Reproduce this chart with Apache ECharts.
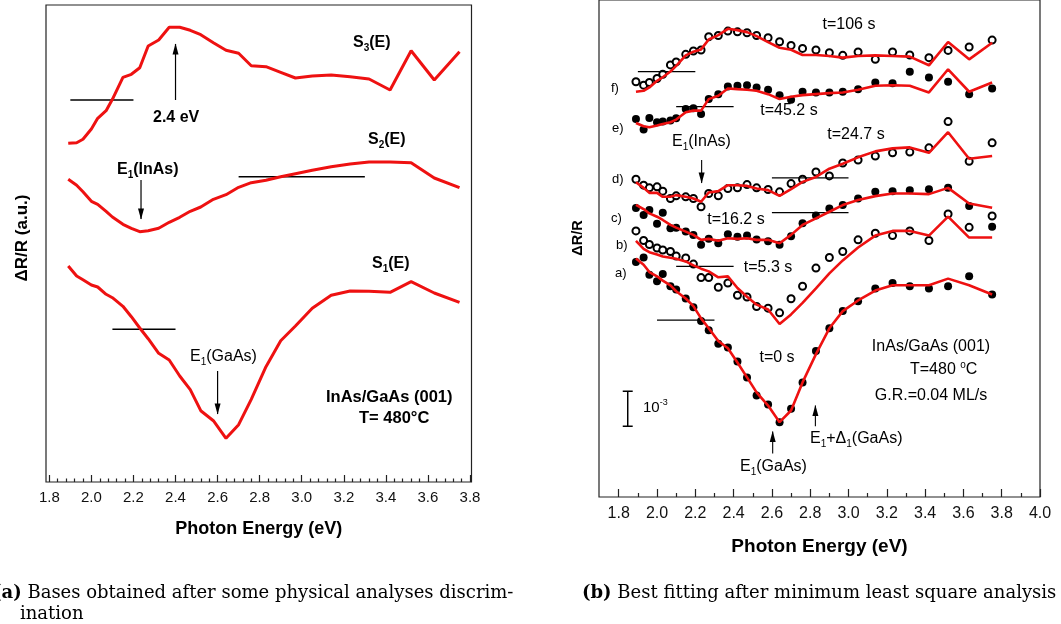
<!DOCTYPE html>
<html><head><meta charset="utf-8">
<script src="https://cdn.jsdelivr.net/npm/echarts@6/dist/echarts.min.js"></script>
<style>html,body{margin:0;padding:0;background:#fff}#c{width:1061px;height:624px}</style>
</head><body><div id="c"></div>
<script>
// Photon energies (eV) shared by all curves
const energy = [1.89,1.93,1.96,2.00,2.03,2.07,2.10,2.15,2.19,2.23,2.27,2.32,2.37,2.42,2.47,2.52,2.58,2.64,2.70,2.76,2.83,2.90,2.97,3.05,3.14,3.23,3.32,3.42,3.52,3.63,3.75];

// (a) bases, arbitrary units
const S3 = [33.87,33.93,34.27,35.3,36.37,37.13,38.27,40.47,40.77,41.43,43.6,44.2,45.47,45.47,45.17,44.73,43.93,43.17,42.87,41.63,41.53,40.97,40.4,40.6,40.7,40.53,40.3,39.2,43.13,40.2,43.03];
const S2 = [30.27,29.67,29.03,28.07,27.77,27.07,26.5,25.77,25.37,25.03,25.13,25.37,25.97,26.47,27.07,27.5,28.27,28.73,29.47,29.93,30.17,30.53,30.83,31.17,31.53,31.8,32.0,32.0,31.93,30.4,29.43];
const S1 = [21.6,20.6,20.23,19.7,19.5,18.77,18.43,17.57,16.53,15.4,14.33,12.87,12.2,10.6,9.23,7.13,6.13,4.37,5.73,8.27,11.53,14.13,15.6,17.37,18.67,19.1,19.07,18.97,20.03,18.9,17.97];

// (b) measured spectra (offset) and fits
const fData = [41.77,41.43,41.7,42.1,42.53,43.47,43.77,44.53,44.87,44.97,46.3,46.43,46.87,46.8,46.7,46.43,46.2,45.8,45.43,45.13,44.97,44.7,44.43,44.77,44.03,44.77,44.47,44.2,44.93,45.27,45.97];
const fFit  = [40.77,40.87,41.2,41.87,42.23,42.8,43.37,44.43,44.8,45.03,46.03,46.47,47.1,46.97,46.77,46.37,45.77,45.2,45.0,44.47,44.47,44.37,44.2,44.37,44.43,44.37,44.3,43.43,45.77,44.03,45.7];
const eData = [38.03,36.97,38.13,37.7,37.77,37.87,38.1,39.03,39.1,38.53,40.03,40.53,41.3,41.37,41.43,41.2,40.97,40.43,39.97,40.77,40.7,40.7,40.77,41.03,41.7,41.63,42.77,42.2,41.77,40.53,41.1];
const eFit  = [37.63,37.3,37.2,37.37,37.53,37.7,37.97,38.7,38.87,38.87,40.03,40.37,41.1,41.03,40.97,40.87,40.53,40.03,40.27,40.43,40.53,40.63,40.7,40.97,41.37,41.43,41.37,40.7,43.03,40.77,41.7];
const dData = [31.97,31.37,31.1,31.2,30.77,30.03,30.3,30.2,30.03,29.2,30.53,30.3,31.03,31.1,31.43,31.1,30.93,30.7,31.53,31.97,32.7,32.3,33.6,33.9,34.3,34.63,34.7,35.13,37.77,33.77,35.63];
const dFit  = [31.67,31.1,30.6,30.6,30.2,30.2,30.37,30.2,30.03,29.7,30.63,30.77,31.37,31.37,31.3,31.03,30.87,30.3,30.97,31.7,32.2,33.03,33.53,34.17,34.77,35.07,35.17,34.63,36.7,34.03,34.3];
const cData = [29.07,28.37,28.87,27.5,28.6,27.03,27.1,26.7,26.37,25.37,25.97,25.53,26.43,26.17,26.3,25.9,25.73,25.37,26.23,27.53,28.33,29.03,29.37,30.03,30.7,30.77,30.87,30.97,31.1,29.27,27.2];
const cFit  = [29.4,28.97,28.53,28.2,27.87,27.37,27.1,26.7,26.37,25.87,25.97,25.77,26.03,25.97,26.03,25.87,25.87,25.53,26.37,27.37,28.03,28.7,29.37,29.87,30.27,30.53,30.53,30.47,31.1,29.53,29.1];
const bData = [26.77,25.8,25.4,25.05,24.85,24.7,24.25,24.05,23.43,22.07,22.07,21.1,21.53,20.3,20.12,19.17,19.0,18.53,19.95,21.2,23.03,24.1,24.7,25.87,26.53,26.3,26.77,25.8,28.47,27.13,28.27];
const bFit  = [25.77,24.97,24.63,24.4,24.2,24.07,23.97,23.7,23.3,22.97,22.7,22.1,22.2,21.03,20.15,19.35,18.87,17.4,18.37,19.53,21.0,22.5,23.8,25.1,26.3,26.77,26.77,26.3,28.2,26.1,26.1];
const aData = [23.63,24.1,22.37,21.7,22.43,21.2,20.87,19.97,19.1,17.7,16.77,15.43,15.03,13.63,12.03,10.2,9.3,7.53,8.87,11.53,14.7,16.97,18.7,19.7,20.97,21.53,21.2,20.97,21.2,22.2,20.37];
const aFit  = [24.0,23.37,22.63,22.2,21.77,21.3,20.7,19.97,19.2,17.97,16.97,15.7,14.97,13.53,12.03,10.53,9.2,7.53,8.7,11.53,14.37,16.97,18.7,19.77,20.77,21.3,21.3,21.3,21.97,21.3,20.37];

// zero (baseline) levels: [E start, E end, level]
const baseLeft  = [[1.9,2.2,38.2],[2.7,3.3,30.53],[2.1,2.4,15.27]];
const baseRight = [[1.9,2.2,42.8],[2.1,2.4,39.27],[2.6,3.0,32.1],[2.6,3.0,28.6],[2.1,2.4,23.2],[2.0,2.3,17.8]];

// arrows: [E, tail level, tip level]
const arrowsLeft  = [[2.4, 38.2, 43.8], [2.236, 30.2, 26.3], [2.6, 11.1, 6.8]];
const arrowsRight = [[2.233, 33.9, 31.6], [2.604, 4.37, 6.6], [2.827, 7.13, 9.2]];

// tick labels
const ticksLeft  = [1.8,2.0,2.2,2.4,2.6,2.8,3.0,3.2,3.4,3.6,3.8];
const ticksRight = [1.8,2.0,2.2,2.4,2.6,2.8,3.0,3.2,3.4,3.6,3.8,4.0];
const minorLeft = [], minorRight = [];
for (let i = 0; i < ticksLeft.length - 1; i++) for (let k = 1; k < 5; k++) minorLeft.push(+(ticksLeft[i] + k * 0.04).toFixed(2));
for (let i = 0; i < ticksRight.length - 1; i++) minorRight.push(+(ticksRight[i] + 0.1).toFixed(2));

const RED = '#ee1111';
const SANS = '"Liberation Sans", Arial, sans-serif';
const zip = v => energy.map((e, i) => [e, v[i]]);

function mainX(grid, min, max, ticks, len, fs, margin, nameGap, nameSize) {
  return {
    type: 'value', gridIndex: grid, min, max, position: 'bottom',
    axisLine: { show: false }, splitLine: { show: false },
    axisTick: { show: true, inside: true, length: len, customValues: ticks, lineStyle: { color: '#222', width: 1.2 } },
    axisLabel: { show: true, customValues: ticks, formatter: v => v.toFixed(1), fontSize: fs, color: '#111', margin, fontFamily: SANS },
    name: 'Photon Energy (eV)', nameLocation: 'middle', nameGap,
    nameTextStyle: { fontSize: nameSize, fontWeight: 'bold', color: '#000', fontFamily: SANS }
  };
}
function minorX(grid, min, max, ticks, len) {
  return {
    type: 'value', gridIndex: grid, min, max, position: 'bottom', offset: 0,
    axisLine: { show: false }, splitLine: { show: false },
    axisTick: { show: true, inside: true, length: len, customValues: ticks, lineStyle: { color: '#222', width: 1.2 } },
    axisLabel: { show: false, customValues: ticks }
  };
}

const series = [];
[S1, S2, S3].forEach(s => series.push({ type: 'line', xAxisIndex: 0, yAxisIndex: 0, data: zip(s), symbol: 'none', lineStyle: { color: RED, width: 3 }, z: 3 }));
baseLeft.forEach(b => series.push({ type: 'line', xAxisIndex: 0, yAxisIndex: 0, data: [[b[0], b[2]], [b[1], b[2]]], symbol: 'none', lineStyle: { color: '#000', width: 1.4 }, z: 2 }));

const sets = [[aData, aFit, true], [bData, bFit, false], [cData, cFit, true], [dData, dFit, false], [eData, eFit, true], [fData, fFit, false]];
sets.forEach(([d, f, filled]) => {
  series.push({ type: 'scatter', xAxisIndex: 2, yAxisIndex: 1, data: zip(d), symbol: 'circle', symbolSize: filled ? 8 : 7,
    itemStyle: filled ? { color: '#000', opacity: 1 } : { color: '#fff', borderColor: '#000', borderWidth: 2, opacity: 1 }, z: 2 });
  series.push({ type: 'line', xAxisIndex: 2, yAxisIndex: 1, data: zip(f), symbol: 'none', lineStyle: { color: RED, width: 2.6 }, z: 4 });
});
baseRight.forEach(b => series.push({ type: 'line', xAxisIndex: 2, yAxisIndex: 1, data: [[b[0], b[2]], [b[1], b[2]]], symbol: 'none', lineStyle: { color: '#000', width: 1.3 }, z: 3 }));

function arrowSeries(xi, yi, list, width) {
  const out = [];
  list.forEach(a => {
    const up = a[2] > a[1];
    out.push({ type: 'line', xAxisIndex: xi, yAxisIndex: yi, data: [[a[0], a[1]], [a[0], a[2]]], symbol: 'none',
      lineStyle: { color: '#000', width }, z: 5 });
    out.push({ type: 'scatter', xAxisIndex: xi, yAxisIndex: yi, data: [[a[0], a[2]]], symbol: 'triangle',
      symbolSize: [6, 11], symbolRotate: up ? 0 : 180, symbolOffset: [0, up ? 5 : -5],
      itemStyle: { color: '#000', opacity: 1 }, z: 6, silent: true });
  });
  return out;
}
series.push(...arrowSeries(0, 0, arrowsLeft, 1.2));
series.push(...arrowSeries(2, 1, arrowsRight, 1.1));
// 10^-3 scale bar
const scaleBar = [[1.847, 10.63, 7.13]];
scaleBar.forEach(s => {
  const half = 0.026;
  series.push({ type: 'line', xAxisIndex: 2, yAxisIndex: 1, symbol: 'none', z: 5, lineStyle: { color: '#000', width: 1.5 },
    data: [[s[0] - half, s[1]], [s[0] + half, s[1]], null, [s[0], s[1]], [s[0], s[2]], null, [s[0] - half, s[2]], [s[0] + half, s[2]]],
    connectNulls: false });
});

function rich(size, bold, font) {
  const w = bold ? 'bold' : 'normal', f = font || SANS, s = Math.round(size * 0.62);
  return {
    n: { fontSize: size, lineHeight: size + 4, fontWeight: w, fontFamily: f, fill: '#000' },
    s: { fontSize: s, lineHeight: s, verticalAlign: 'bottom', fontWeight: w, fontFamily: f, fill: '#000' },
    p: { fontSize: s, lineHeight: s, verticalAlign: 'top', fontWeight: w, fontFamily: f, fill: '#000' },
    b: { fontSize: size, lineHeight: size + 4, fontWeight: 'bold', fontFamily: f, fill: '#000' }
  };
}
function T(x, y, text, size, bold, align, rot, font) {
  return { type: 'text', x, y, rotation: rot || 0, silent: true, z: 10,
    style: { text, rich: rich(size, bold, font), align: align || 'left', verticalAlign: 'middle', fill: '#000',
      fontSize: size, fontWeight: bold ? 'bold' : 'normal', fontFamily: font || SANS } };
}
const SERIF = '"DejaVu Serif", serif';
const graphic = [
  T(353, 43, '{n|S}{s|3}{n|(E)}', 16, true),
  T(153, 118, '{n|2.4 eV}', 16, true),
  T(368, 140, '{n|S}{s|2}{n|(E)}', 16, true),
  T(117, 170, '{n|E}{s|1}{n|(InAs)}', 16, true),
  T(372, 264, '{n|S}{s|1}{n|(E)}', 16, true),
  T(190, 357, '{n|E}{s|1}{n|(GaAs)}', 16, false),
  T(326, 397, '{n|InAs/GaAs (001)}', 16.5, true),
  T(359, 418, '{n|T= 480°C}', 16.5, true),
  T(22, 238, '{n|ΔR/R (a.u.)}', 17, true, 'center', Math.PI / 2),

  T(849, 25, '{n|t=106 s}', 16, false, 'center'),
  T(611, 88, '{n|f)}', 13, false),
  T(789, 111, '{n|t=45.2 s}', 16, false, 'center'),
  T(612, 128, '{n|e)}', 13, false),
  T(672, 142, '{n|E}{s|1}{n|(InAs)}', 16, false),
  T(856, 135, '{n|t=24.7 s}', 16, false, 'center'),
  T(612, 179, '{n|d)}', 13, false),
  T(611, 218, '{n|c)}', 13, false),
  T(736, 220, '{n|t=16.2 s}', 16, false, 'center'),
  T(616, 245, '{n|b)}', 13, false),
  T(768, 268, '{n|t=5.3 s}', 16, false, 'center'),
  T(615, 273, '{n|a)}', 13, false),
  T(777, 358, '{n|t=0 s}', 16, false, 'center'),
  T(931, 347, '{n|InAs/GaAs (001)}', 16, false, 'center'),
  T(910, 370, '{n|T=480 }{p|o}{n|C}', 16, false),
  T(931, 396, '{n|G.R.=0.04 ML/s}', 16, false, 'center'),
  T(643, 408, '{n|10}{p|-3}', 15, false),
  T(740, 467, '{n|E}{s|1}{n|(GaAs)}', 16, false),
  T(810, 439, '{n|E}{s|1}{n|+Δ}{s|1}{n|(GaAs)}', 16, false),
  T(578, 238, '{n|ΔR/R}', 14.5, true, 'center', Math.PI / 2),

  T(-7, 593, '{b|(a)}{n| Bases obtained after some physical analyses discrim-}', 18, false, 'left', 0, SERIF),
  T(20, 614, '{n|ination}', 18, false, 'left', 0, SERIF),
  T(582, 593, '{b|(b)}{n| Best fitting after minimum least square analysis}', 18, false, 'left', 0, SERIF)
];

const chart = echarts.init(document.getElementById('c'));
chart.setOption({
  animation: false,
  backgroundColor: '#fff',
  grid: [
    { left: 46, top: 5, width: 425.5, height: 477, show: true, borderColor: '#222', borderWidth: 1.2, backgroundColor: 'transparent' },
    { left: 599, top: -3, width: 441, height: 500, show: true, borderColor: '#222', borderWidth: 1.2, backgroundColor: 'transparent' }
  ],
  xAxis: [
    mainX(0, 1.7843, 3.807, ticksLeft, 7, 15, 8, 38, 18),
    minorX(0, 1.7843, 3.807, minorLeft, 3.5),
    mainX(1, 1.697, 4.0, ticksRight, 8, 16, 9, 40, 19),
    minorX(1, 1.697, 4.0, minorRight, 4)
  ],
  yAxis: [
    { type: 'value', gridIndex: 0, min: 0, max: 47.7, show: false },
    { type: 'value', gridIndex: 1, min: 0, max: 50, show: false }
  ],
  series,
  graphic
});
</script></body></html>
